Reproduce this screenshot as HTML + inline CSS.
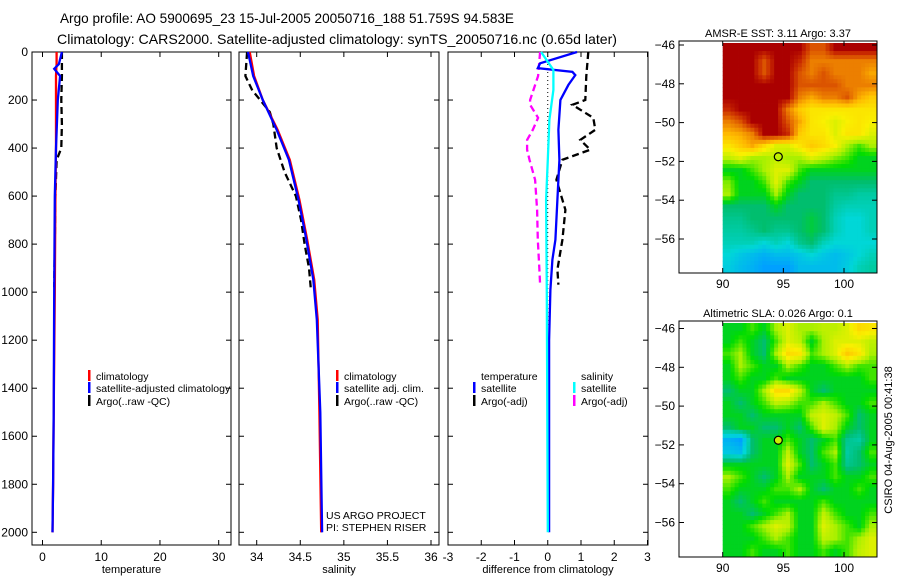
<!DOCTYPE html>
<html><head><meta charset="utf-8"><style>
html,body{margin:0;padding:0;background:#fff;}
svg{display:block;font-family:"Liberation Sans",sans-serif;}
</style></head><body>
<svg id="fig" width="900" height="580" viewBox="0 0 900 580" xmlns="http://www.w3.org/2000/svg">
<rect x="0" y="0" width="900" height="580" fill="#fff"/>
<text x="60" y="23" font-size="14" textLength="454" lengthAdjust="spacingAndGlyphs">Argo profile: AO 5900695_23 15-Jul-2005 20050716_188 51.759S 94.583E</text>
<text x="57" y="44" font-size="14" textLength="560" lengthAdjust="spacingAndGlyphs">Climatology: CARS2000. Satellite-adjusted climatology: synTS_20050716.nc (0.65d later)</text>
<g id="layer"></g>
</svg>
<script>
// ---------- data ----------
const tDepth   = [0, 50, 70, 100, 200, 400, 600, 1000, 1500, 1800, 2000];
const tClim    = [2.4, 2.4, 2.35, 2.3, 2.3, 2.3, 2.2, 2.1, 1.9, 1.8, 1.7];
const tSat     = [3.3, 2.8, 2.0, 3.0, 2.6, 2.3, 2.1, 2.0, 1.9, 1.8, 1.7];
const argoDepth= [0, 100, 200, 300, 400, 450, 600, 800, 980];
const tArgo    = [3.3, 3.3, 3.2, 3.3, 3.2, 2.4, 2.2, 2.1, 2.0];

const sDepth   = [0, 100, 200, 324, 449, 615, 782, 948, 1114, 1500, 2000];
const sClim    = [33.92, 33.97, 34.07, 34.24, 34.38, 34.49, 34.58, 34.66, 34.70, 34.72, 34.74];
const sSat     = [33.90, 33.96, 34.07, 34.23, 34.37, 34.48, 34.57, 34.65, 34.69, 34.73, 34.75];
const sArgoD   = [0, 100, 160, 200, 250, 300, 400, 500, 600, 700, 800, 900, 980];
const sArgo    = [33.89, 33.87, 33.95, 34.04, 34.15, 34.19, 34.23, 34.32, 34.45, 34.51, 34.55, 34.60, 34.62];

const dDepth   = [0, 47, 67, 83, 96, 137, 200, 324, 450, 615, 782, 865, 990, 1200, 2000];
const dTSat    = [0.88, -0.23, -0.3, 0.74, 0.83, 0.62, 0.38, 0.32, 0.35, 0.29, 0.23, 0.14, 0.08, 0.04, 0.04];
const dArgoD   = [0, 100, 200, 220, 274, 324, 366, 407, 449, 532, 657, 782, 906, 969];
const dTArgo   = [1.22, 1.16, 1.13, 0.74, 1.37, 1.43, 0.98, 1.28, 0.44, 0.26, 0.53, 0.44, 0.29, 0.32];
const dSArgo   = [-0.23, -0.29, -0.53, -0.53, -0.29, -0.45, -0.62, -0.62, -0.55, -0.38, -0.32, -0.3, -0.25, -0.23];
const dSDepth  = [0, 75, 158, 282, 449, 615, 1000, 2000];
const dSSat    = [-0.2, 0.17, 0.17, 0.05, 0.0, -0.05, -0.03, 0.0];

const depthTicks = [0, 200, 400, 600, 800, 1000, 1200, 1400, 1600, 1800, 2000];
const tempTicks  = [0, 10, 20, 30];
const salTicks   = [34, 34.5, 35, 35.5, 36];
const salTickLabels = ["34", "34.5", "35", "35.5", "36"];
const diffTicks  = [-3, -2, -1, 0, 1, 2, 3];
const latTicks   = [-46, -48, -50, -52, -54, -56];
const lonTicks   = [90, 95, 100];

const sstGrid = [
[1,1,1,1,1,1,1,0.9,0.9,1,1,1,1],
[1,1,1,0.9,1,1,0.95,0.85,0.85,0.85,0.85,0.85,0.85],
[1,1,1,0.9,1,1,0.9,0.85,0.9,0.85,0.85,0.85,0.8],
[1,1,1,1,1,1,0.9,0.9,0.9,0.9,0.85,0.85,0.85],
[1,1,1,1,1,1,0.85,0.8,0.85,0.85,0.9,0.8,0.75],
[0.95,1,1,1,1,0.85,0.75,0.7,0.7,0.7,0.7,0.7,0.7],
[0.85,0.9,1,1,1,0.9,0.8,0.7,0.68,0.65,0.68,0.7,0.68],
[0.78,0.8,0.85,1,1,0.95,0.75,0.7,0.7,0.65,0.7,0.7,0.65],
[0.7,0.75,0.8,0.72,0.65,0.65,0.7,0.75,0.72,0.68,0.6,0.55,0.6],
[0.62,0.65,0.6,0.6,0.62,0.6,0.6,0.65,0.62,0.58,0.55,0.5,0.5],
[0.5,0.5,0.55,0.6,0.65,0.65,0.55,0.5,0.5,0.5,0.5,0.5,0.5],
[0.58,0.5,0.5,0.55,0.65,0.55,0.5,0.45,0.45,0.45,0.45,0.45,0.45],
[0.6,0.5,0.5,0.5,0.6,0.5,0.45,0.45,0.45,0.42,0.42,0.4,0.4],
[0.45,0.45,0.45,0.45,0.5,0.45,0.45,0.45,0.45,0.4,0.38,0.38,0.38],
[0.42,0.42,0.45,0.45,0.45,0.45,0.45,0.48,0.45,0.38,0.35,0.35,0.38],
[0.4,0.4,0.42,0.45,0.42,0.42,0.45,0.48,0.45,0.38,0.35,0.35,0.38],
[0.38,0.38,0.38,0.35,0.38,0.35,0.42,0.45,0.38,0.35,0.35,0.35,0.35],
[0.35,0.32,0.3,0.28,0.3,0.3,0.32,0.35,0.32,0.3,0.32,0.35,0.38],
[0.33,0.3,0.28,0.25,0.25,0.25,0.3,0.3,0.3,0.3,0.33,0.38,0.4]];
const slaGrid = [
[0.5,0.5,0.55,0.5,0.6,0.65,0.6,0.6,0.62,0.62,0.65,0.72,0.7],
[0.5,0.55,0.5,0.45,0.55,0.65,0.62,0.5,0.6,0.65,0.65,0.65,0.62],
[0.55,0.6,0.5,0.45,0.6,0.72,0.7,0.55,0.6,0.65,0.75,0.7,0.6],
[0.5,0.6,0.55,0.5,0.5,0.6,0.55,0.5,0.5,0.55,0.6,0.55,0.55],
[0.5,0.55,0.5,0.5,0.55,0.5,0.5,0.5,0.5,0.5,0.5,0.5,0.55],
[0.45,0.5,0.5,0.6,0.72,0.72,0.62,0.5,0.45,0.5,0.5,0.5,0.5],
[0.5,0.45,0.5,0.55,0.62,0.6,0.55,0.55,0.6,0.55,0.5,0.5,0.55],
[0.5,0.5,0.45,0.5,0.5,0.5,0.5,0.62,0.65,0.62,0.55,0.45,0.5],
[0.45,0.5,0.5,0.45,0.45,0.5,0.45,0.55,0.65,0.6,0.5,0.45,0.5],
[0.28,0.25,0.45,0.5,0.5,0.55,0.5,0.45,0.5,0.55,0.42,0.4,0.5],
[0.32,0.3,0.45,0.5,0.5,0.62,0.5,0.45,0.55,0.6,0.4,0.45,0.55],
[0.5,0.5,0.5,0.5,0.5,0.65,0.55,0.45,0.5,0.55,0.42,0.45,0.5],
[0.6,0.55,0.5,0.45,0.5,0.6,0.5,0.5,0.5,0.55,0.5,0.5,0.55],
[0.55,0.5,0.5,0.5,0.55,0.55,0.6,0.5,0.45,0.5,0.5,0.55,0.5],
[0.5,0.45,0.5,0.55,0.5,0.5,0.5,0.5,0.55,0.5,0.5,0.5,0.5],
[0.5,0.5,0.45,0.5,0.55,0.6,0.5,0.5,0.62,0.55,0.5,0.5,0.55],
[0.5,0.5,0.55,0.6,0.65,0.62,0.5,0.5,0.65,0.6,0.55,0.5,0.6],
[0.5,0.5,0.5,0.55,0.6,0.55,0.5,0.5,0.62,0.6,0.55,0.6,0.65],
[0.5,0.5,0.55,0.5,0.5,0.55,0.5,0.5,0.55,0.5,0.55,0.62,0.65]];
const floatLon = 94.583, floatLat = -51.759;

// ---------- helpers ----------
const NS = "http://www.w3.org/2000/svg";
const layer = document.getElementById("layer");
function mk(tag, attrs, parent) {
  const e = document.createElementNS(NS, tag);
  for (const k in attrs) e.setAttribute(k, attrs[k]);
  (parent || layer).appendChild(e);
  return e;
}
function lin(d0, d1, r0, r1) { return v => r0 + (v - d0) * (r1 - r0) / (d1 - d0); }
const yD = lin(0, 2000, 52, 532.3);
const PT = 52, PB = 545;

function panel(name, x0, x1, xs, ticks, labels, xlabel, showDepth) {
  const g = mk("g", {});
  
  
  const r = mk("rect", {x: x0, y: PT, width: x1 - x0, height: PB - PT, fill: "none", stroke: "#000", "stroke-width": 1}, g);
  
  
  ticks.forEach((t, i) => {
    const x = xs(t);
    mk("line", {x1: x, x2: x, y1: PB, y2: PB - 5, stroke: "#000"}, g);
    mk("line", {x1: x, x2: x, y1: PT, y2: PT + 5, stroke: "#000"}, g);
    const tx = mk("text", {x: x, y: PB + 16, "font-size": 12, "text-anchor": "middle"}, g);
    tx.textContent = labels[i];
    
    
  });
  depthTicks.forEach(d => {
    const y = yD(d);
    mk("line", {x1: x0, x2: x0 + 5, y1: y, y2: y, stroke: "#000"}, g);
    mk("line", {x1: x1, x2: x1 - 5, y1: y, y2: y, stroke: "#000"}, g);
    if (showDepth) {
      const tx = mk("text", {x: x0 - 4, y: y + 4, "font-size": 12, "text-anchor": "end"}, g);
      tx.textContent = d;
      
      
    }
  });
  const xl = mk("text", {x: (x0 + x1) / 2, y: 573, "font-size": 11, "text-anchor": "middle"}, g);
  xl.textContent = xlabel;
  
  
}
function series(name, xs, depths, vals, color, dash, w) {
  const pts = depths.map((d, i) => xs(vals[i]).toFixed(1) + "," + yD(d).toFixed(1)).join(" ");
  const p = mk("polyline", {points: pts, fill: "none", stroke: color, "stroke-width": w || 2.3});
  if (dash) p.setAttribute("stroke-dasharray", dash);
  
  
}
function legendEntry(name, x, y, color, label) {
  if (color) {
    const b = mk("rect", {x: x, y: y - 10, width: 2.5, height: 11, fill: color});
    
    
  }
  const t = mk("text", {x: x + 8, y: y, "font-size": 10.5});
  t.textContent = label;
  
  
}

// ---------- panel 1: temperature ----------
const xT = lin(0, 30, 42.5, 218.7);
panel("temperature-panel", 32, 231, xT, tempTicks, tempTicks.map(String), "temperature", true);
series("temp-argo-line", xT, argoDepth, tArgo, "#000", "7,4");
series("temp-climatology-line", xT, tDepth, tClim, "#f00");
series("temp-satellite-line", xT, tDepth, tSat, "#00f");
legendEntry("legend-climatology", 88, 380, "#f00", "climatology");
legendEntry("legend-satellite-adjusted", 88, 392, "#00f", "satellite-adjusted climatology");
legendEntry("legend-argo-raw", 88, 405, "#000", "Argo(..raw -QC)");

// ---------- panel 2: salinity ----------
const xS = lin(34, 36, 256.7, 431);
panel("salinity-panel", 239, 439, xS, salTicks, salTickLabels, "salinity", false);
series("sal-argo-line", xS, sArgoD, sArgo, "#000", "7,4");
series("sal-climatology-line", xS, sDepth, sClim, "#f00");
series("sal-satellite-line", xS, sDepth, sSat, "#00f");
legendEntry("legend-sal-climatology", 336, 380, "#f00", "climatology");
legendEntry("legend-sal-satellite", 336, 392, "#00f", "satellite adj. clim.");
legendEntry("legend-sal-argo", 336, 405, "#000", "Argo(..raw -QC)");
const c1 = mk("text", {x: 326, y: 519, "font-size": 10.5}); c1.textContent = "US ARGO PROJECT";


const c2 = mk("text", {x: 326, y: 531, "font-size": 10.5}); c2.textContent = "PI: STEPHEN RISER";



// ---------- panel 3: differences ----------
const xDf = lin(-3, 3, 448, 647.5);
panel("difference-panel", 448, 648, xDf, diffTicks, diffTicks.map(String), "difference from climatology", false);
const zl = mk("line", {x1: xDf(0), x2: xDf(0), y1: yD(0), y2: yD(1150), stroke: "#000", "stroke-dasharray": "1,3"});


series("diff-temp-argo-line", xDf, dArgoD, dTArgo, "#000", "7,4");
series("diff-sal-argo-line", xDf, dArgoD, dSArgo, "#f0f", "7,4");
series("diff-temp-satellite-line", xDf, dDepth, dTSat, "#00f");
series("diff-sal-satellite-line", xDf, dSDepth, dSSat, "#0ff");
legendEntry("legend-temperature-heading", 473, 380, null, "temperature");
legendEntry("legend-diff-temp-satellite", 473, 392, "#00f", "satellite");
legendEntry("legend-diff-temp-argo", 473, 405, "#000", "Argo(-adj)");
legendEntry("legend-salinity-heading", 573, 380, null, "salinity");
legendEntry("legend-diff-sal-satellite", 573, 392, "#0ff", "satellite");
legendEntry("legend-diff-sal-argo", 573, 405, "#f0f", "Argo(-adj)");

// ---------- maps ----------
const cStops = [[0,[0,80,255]],[0.25,[0,160,255]],[0.35,[0,215,215]],[0.45,[0,190,110]],[0.52,[0,220,0]],
 [0.6,[170,240,0]],[0.68,[250,240,0]],[0.78,[255,185,0]],[0.87,[230,110,0]],[0.95,[200,40,0]],[1,[170,0,0]]];
function cmap(v) {
  for (let i = 1; i < cStops.length; i++) {
    if (v <= cStops[i][0]) {
      const a = cStops[i-1], b = cStops[i], f = (v - a[0]) / (b[0] - a[0]);
      return "rgb(" + [0,1,2].map(k => Math.round(a[1][k] + f * (b[1][k] - a[1][k]))).join(",") + ")";
    }
  }
  return "rgb(170,0,0)";
}
function sampleGrid(grid, fr, fc) {
  const R = grid.length - 1, C = grid[0].length - 1;
  const r = Math.max(0, Math.min(R, fr)), c = Math.max(0, Math.min(C, fc));
  const r0 = Math.floor(r), c0 = Math.floor(c), r1 = Math.min(R, r0 + 1), c1 = Math.min(C, c0 + 1);
  const a = r - r0, b = c - c0;
  return grid[r0][c0] * (1 - a) * (1 - b) + grid[r0][c1] * (1 - a) * b + grid[r1][c0] * a * (1 - b) + grid[r1][c1] * a * b;
}
function mapPanel(name, top, bottom, lat46, grid, title, filledMarker) {
  const g = mk("g", {});
  
  
  const bx0 = 679, bx1 = 877, ix0 = 722.7;
  const xL = lin(90, 100, 722.7, 844);
  const yL = lin(-46, -56, lat46, lat46 + 194);
  const rows = grid.length, cols = grid[0].length, S = 3;
  const cw = (bx1 - ix0) / (cols * S), ch = (bottom - (top + 2)) / (rows * S);
  for (let r = 0; r < rows * S; r++) {
    for (let c = 0; c < cols * S; c++) {
      const v = sampleGrid(grid, (r + 0.5) / S - 0.5, (c + 0.5) / S - 0.5);
      const cell = mk("rect", {x: (ix0 + c * cw).toFixed(2), y: (top + 2 + r * ch).toFixed(2), width: (cw + 0.4).toFixed(2), height: (ch + 0.4).toFixed(2), fill: cmap(v)}, g);
      
      
    }
  }
  const fr = mk("rect", {x: bx0, y: top, width: bx1 - bx0, height: bottom - top, fill: "none", stroke: "#000"}, g);
  
  
  latTicks.forEach(l => {
    const y = yL(l);
    mk("line", {x1: bx0, x2: bx0 + 5, y1: y, y2: y, stroke: "#000"}, g);
    mk("line", {x1: bx1, x2: bx1 - 5, y1: y, y2: y, stroke: "#000"}, g);
    const t = mk("text", {x: bx0 - 4, y: y + 4, "font-size": 12, "text-anchor": "end"}, g);
    t.textContent = "\u2212" + Math.abs(l);
    
    
  });
  lonTicks.forEach(l => {
    const x = xL(l);
    mk("line", {x1: x, x2: x, y1: top, y2: top + 5, stroke: "#000"}, g);
    mk("line", {x1: x, x2: x, y1: bottom, y2: bottom - 5, stroke: "#000"}, g);
    const t = mk("text", {x: x, y: bottom + 15, "font-size": 12, "text-anchor": "middle"}, g);
    t.textContent = l;
    
    
  });
  const tt = mk("text", {x: 778, y: top - 4, "font-size": 11, "text-anchor": "middle"}, g);
  tt.textContent = title;
  
  
  const m = mk("circle", {cx: xL(floatLon), cy: yL(floatLat), r: 4, fill: filledMarker ? "#c8f000" : "none", stroke: "#000", "stroke-width": 1.2}, g);
  
  
}
mapPanel("sst-map", 41, 273, 45, sstGrid, "AMSR-E SST: 3.11 Argo: 3.37", false);
mapPanel("sla-map", 321, 557, 328.5, slaGrid, "Altimetric SLA: 0.026 Argo: 0.1", true);
const stamp = mk("text", {x: 0, y: 0, "font-size": 11, "text-anchor": "middle", transform: "translate(892,440) rotate(-90)"});
stamp.textContent = "CSIRO 04-Aug-2005 00:41:38";


</script>
</body></html>
